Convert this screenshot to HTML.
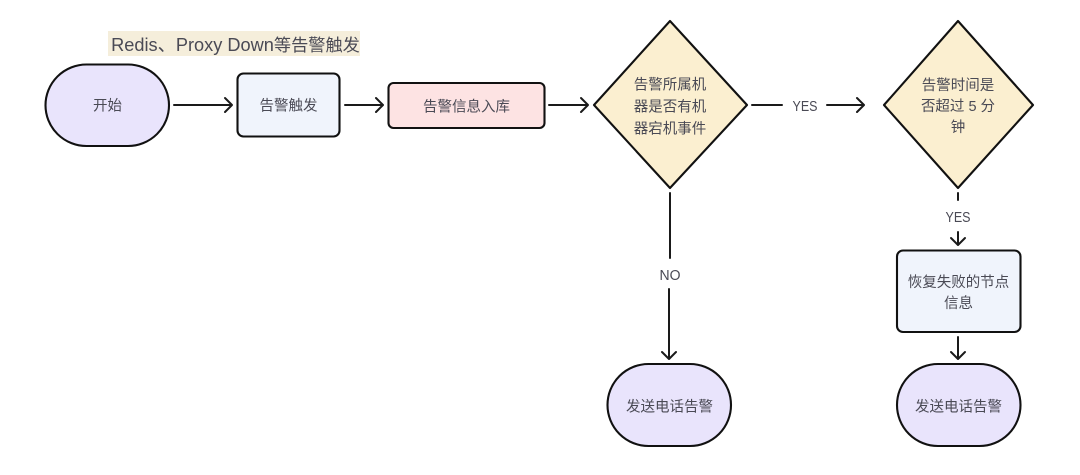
<!DOCTYPE html>
<html><head><meta charset="utf-8">
<style>
html,body{margin:0;padding:0;background:#fff}
svg{display:block;filter:blur(.35px)}
text{font-family:"Liberation Sans","Noto Sans CJK SC",sans-serif;fill:#4a4a55;font-size:14.5px;text-anchor:middle}
.s{stroke:#111;stroke-width:2.1;stroke-linejoin:round}
.l{stroke:#1a1a1a;stroke-width:2;fill:none;stroke-linecap:round;stroke-linejoin:round}
</style></head><body>
<svg width="1080" height="475" viewBox="0 0 1080 475" xmlns="http://www.w3.org/2000/svg">
<rect width="1080" height="475" fill="#fff"/>
<rect x="108" y="31" width="252" height="25" fill="#f5eedb"/>
<text x="235.500" y="51" style="font-size:17.2px"><tspan style="font-size:18.200px">Redis、Proxy Down</tspan>等告警触发</text>

<rect class="s" x="45.500" y="64.500" width="123.500" height="81.500" rx="41" fill="#e9e4fc"/>
<text x="107.500" y="110.500">开始</text>
<rect class="s" x="237.500" y="73.500" width="102" height="63" rx="6" fill="#f0f4fc"/>
<text x="288.500" y="110.500">告警触发</text>
<rect class="s" x="388.500" y="83" width="156" height="45" rx="5" fill="#fde3e3"/>
<text x="466.500" y="111.500">告警信息入库</text>
<polygon class="s" points="670,21 747,105 670,188 594,105" fill="#fbefd0"/>
<text x="670" y="89.500">告警所属机</text>
<text x="670" y="111.500">器是否有机</text>
<text x="670" y="133.500">器宕机事件</text>
<polygon class="s" points="958,21 1033,105 958,188 884,105" fill="#fbefd0"/>
<text x="958" y="90">告警时间是</text>
<text x="958" y="111">否超过 5 分</text>
<text x="958" y="132">钟</text>
<rect class="s" x="897" y="250.500" width="123.500" height="81.500" rx="6" fill="#f0f4fc"/>
<text x="958.500" y="287">恢复失败的节点</text>
<text x="958.500" y="308">信息</text>
<rect class="s" x="897" y="364" width="123.500" height="82" rx="41" fill="#e9e4fc"/>
<text x="958.500" y="411.500">发送电话告警</text>
<rect class="s" x="607.500" y="364" width="123.500" height="82" rx="41" fill="#e9e4fc"/>
<text x="669.500" y="411.500">发送电话告警</text>

<path class="l" d="M174 105H232M225 98L232 105L225 112"/>
<path class="l" d="M345 105H383M376 98L383 105L376 112"/>
<path class="l" d="M549 105H588M581 98L588 105L581 112"/>
<path class="l" d="M752 105H782M827 105H864M857 98L864 105L857 112"/>
<text x="805" y="111" textLength="25" lengthAdjust="spacingAndGlyphs">YES</text>
<path class="l" d="M670 193V258M669 289V359M662 352L669 359L676 352"/>
<text x="670" y="280" textLength="21" lengthAdjust="spacingAndGlyphs">NO</text>
<path class="l" d="M958 193V200M958 232V245M951 238L958 245L965 238"/>
<text x="958" y="222" textLength="25" lengthAdjust="spacingAndGlyphs">YES</text>
<path class="l" d="M958 337V359M951 352L958 359L965 352"/>
</svg>
</body></html>
